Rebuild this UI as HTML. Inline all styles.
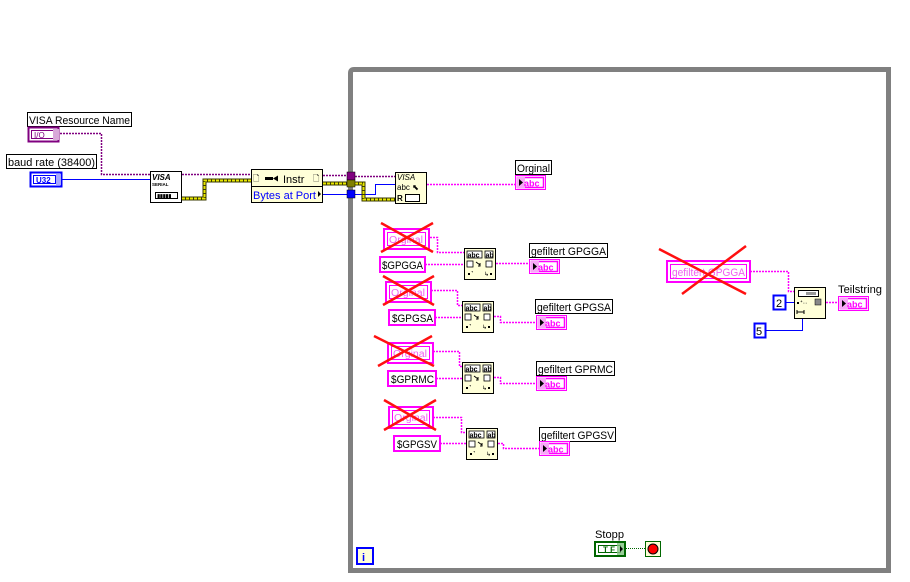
<!DOCTYPE html>
<html><head><meta charset="utf-8"><style>
html,body{margin:0;padding:0;background:#fff;}
svg{display:block;font-family:"Liberation Sans",sans-serif;}
</style></head><body>
<svg width="910" height="582" viewBox="0 0 910 582" xmlns="http://www.w3.org/2000/svg">
<defs>
<g id="abcind">
 <rect x="0.5" y="0.5" width="30" height="14" fill="#fff" stroke="#ff00ff" stroke-width="1"/>
 <rect x="2.5" y="2.5" width="26" height="10" fill="#fff" stroke="#ff00ff" stroke-width="1.5"/>
 <rect x="2" y="2" width="8" height="11" fill="#f7a8f7"/>
 <polygon points="4,4 8,7.5 4,11" fill="#000"/>
 <text x="9" y="11.5" font-size="9" font-weight="bold" fill="#ff00ff">abc</text>
</g>
<g id="match">
 <rect x="0.5" y="0.5" width="31" height="31" fill="#ffffd8" stroke="#000"/>
 <rect x="3" y="3" width="15" height="7" fill="#fff" stroke="#000" stroke-width="0.8"/>
 <text x="3.5" y="9.5" font-size="7" font-weight="bold">abc</text>
 <rect x="21" y="3" width="8" height="7" fill="#fff" stroke="#000" stroke-width="0.8"/>
 <text x="21.5" y="9.5" font-size="7" font-weight="bold">ab</text>
 <rect x="3" y="13" width="6" height="6" fill="#fff" stroke="#000" stroke-width="0.8"/>
 <rect x="22" y="13" width="6" height="6" fill="#fff" stroke="#000" stroke-width="0.8"/>
 <path d="M12,14 L16,17 M16,15 L16,18 L14,18" stroke="#000" fill="none"/>
 <rect x="4" y="25" width="2" height="2" fill="#000"/><text x="7" y="27" font-size="6">ᐩ</text>
 <text x="20" y="28" font-size="6">↳</text><rect x="26" y="25" width="2" height="2" fill="#000"/>
</g>
</defs>

<path d="M350.5,572 L350.5,73 Q350.5,69.5 354,69.5 L888.5,69.5 L888.5,572" fill="none" stroke="#808080" stroke-width="5"/>
<line x1="348" y1="570.5" x2="891" y2="570.5" stroke="#808080" stroke-width="5"/>

<g fill="none">
 <path d="M60,133.5 H101.5 V174.5 H150" stroke="#800080" stroke-dasharray="2,1" stroke-width="1.5"/>
 <path d="M182,174.5 H251" stroke="#800080" stroke-dasharray="2,1" stroke-width="1.5"/>
 <path d="M323,175.5 H350" stroke="#800080" stroke-dasharray="2,1" stroke-width="1.5"/>
 <path d="M355,176.5 H395" stroke="#800080" stroke-dasharray="2,1" stroke-width="1.5"/>
 <path d="M62,179.5 H150" stroke="#0000ff" stroke-width="1"/>
 <path d="M323,194.5 H348" stroke="#0000ff"/>
 <path d="M355,194.5 H375.5 V184.5 H395" stroke="#0000ff"/>
 <path d="M182,198.5 H204.5 V180.5 H251" stroke="#3a3a00" stroke-width="4"/>
 <path d="M182,198.5 H204.5 V180.5 H251" stroke="#e8e800" stroke-width="2" stroke-dasharray="3,1"/>
 <path d="M323,183.5 H348" stroke="#3a3a00" stroke-width="4"/>
 <path d="M323,183.5 H348" stroke="#e8e800" stroke-width="2" stroke-dasharray="3,1"/>
 <path d="M355,183.5 H363.5 V199.5 H395" stroke="#3a3a00" stroke-width="4"/>
 <path d="M355,183.5 H363.5 V199.5 H395" stroke="#e8e800" stroke-width="2" stroke-dasharray="3,1"/>
 <g stroke="#ff00ff" stroke-dasharray="2,1" stroke-width="1.5">
  <path d="M427,184.5 H515"/>
  <path d="M430,237.5 H437.5 V252.5 H464"/>
  <path d="M425,264.5 H464"/>
  <path d="M496,263.5 H529"/>
  <path d="M431,290.5 H457.5 V305.5 H462"/>
  <path d="M435,317.5 H462"/>
  <path d="M494,316.5 H500.5 V322.5 H536"/>
  <path d="M433,351.5 H459.5 V366.5 H462"/>
  <path d="M436,378.5 H462"/>
  <path d="M494,377.5 H500.5 V383.5 H536"/>
  <path d="M433,417.5 H461.5 V432.5 H466"/>
  <path d="M440,443.5 H466"/>
  <path d="M498,443.5 H503.5 V448.5 H539"/>
  <path d="M750,271.5 H788.5 V291.5 H794"/>
  <path d="M826,302.5 H838"/>
 </g>
 <path d="M786,302.5 H794" stroke="#0000ff"/>
 <path d="M766,330.5 H802.5 V318" stroke="#0000ff"/>
 <path d="M626,548.5 H645" stroke="#006600" stroke-dasharray="1,1"/>
</g>

<rect x="27.5" y="112.5" width="104" height="14" fill="#fff" stroke="#000"/>
<text x="29" y="124" font-size="11" textLength="101" lengthAdjust="spacingAndGlyphs">VISA Resource Name</text>
<rect x="28.5" y="127.5" width="30" height="14" fill="#fff" stroke="#800080" stroke-width="2"/>
<rect x="31.5" y="130.5" width="22" height="8" fill="#fff" stroke="#800080"/>
<text x="34" y="138" font-size="8" fill="#800080">I/O</text>
<rect x="53" y="129" width="6" height="11" fill="#d8a8d8"/>

<rect x="6.5" y="154.5" width="90" height="14" fill="#fff" stroke="#000"/>
<text x="8" y="166" font-size="11" textLength="87" lengthAdjust="spacingAndGlyphs">baud rate (38400)</text>
<rect x="30.5" y="172.5" width="31" height="14" fill="#fff" stroke="#0000ff" stroke-width="2"/>
<rect x="33.5" y="175.5" width="22" height="8" fill="#fff" stroke="#0000ff"/>
<text x="36" y="183" font-size="8" font-weight="bold" fill="#0000ff">U32</text>
<rect x="56" y="174" width="5" height="11" fill="#a8a8ff"/>

<rect x="150.5" y="171.5" width="31" height="31" fill="#fff" stroke="#000"/>
<text x="152" y="180" font-size="8" font-style="italic" font-weight="bold">VISA</text>
<text x="152" y="186" font-size="4.5" font-weight="bold">SERIAL</text>
<rect x="155.5" y="192.5" width="22" height="6" fill="#fff" stroke="#000"/>
<text x="157" y="198" font-size="6" letter-spacing="-0.5">▮▮▮▮▮</text>

<rect x="251.5" y="169.5" width="71" height="33" fill="#ffffd8" stroke="#000"/>
<line x1="251" y1="186.5" x2="323" y2="186.5" stroke="#000"/>
<text x="253" y="181" font-size="8">🗋</text>
<rect x="265" y="177" width="8" height="3" fill="#000"/><polygon points="273,178.5 278,175.5 278,181.5" fill="#000"/>
<text x="283" y="183" font-size="11">Instr</text>
<text x="313" y="181" font-size="8">🗋</text>
<text x="253" y="199" font-size="11" fill="#0000ff" textLength="63" lengthAdjust="spacingAndGlyphs">Bytes at Port</text>
<polygon points="318,191 321,194 318,197" fill="#000"/>

<rect x="347" y="172" width="8" height="8" fill="#800080" stroke="#000" stroke-width="0.5"/>
<rect x="347" y="180" width="8" height="7" fill="#808000" stroke="#000" stroke-width="0.5"/>
<rect x="347" y="190" width="8" height="8" fill="#0000ff" stroke="#000" stroke-width="0.5"/>

<rect x="395.5" y="172.5" width="31" height="31" fill="#ffffd8" stroke="#000"/>
<text x="397" y="180" font-size="8" font-style="italic">VISA</text>
<text x="397" y="190" font-size="8">abc ⬉</text>
<text x="397" y="201" font-size="8" font-weight="bold">R</text>
<rect x="405.5" y="194.5" width="14" height="7" fill="#fff" stroke="#000"/>

<rect x="515.5" y="160.5" width="36" height="14" fill="#fff" stroke="#000"/>
<text x="517" y="172" font-size="11" textLength="33" lengthAdjust="spacingAndGlyphs">Orginal</text>
<use href="#abcind" x="515" y="175"/>

<g font-size="11">
 <rect x="384" y="229" width="45" height="20" fill="#fff" stroke="#ff00ff" stroke-width="2"/>
 <rect x="387.5" y="232.5" width="38" height="13" fill="none" stroke="#ff00ff"/>
 <text x="389" y="243" fill="#f060f0" font-size="10" textLength="34" lengthAdjust="spacingAndGlyphs">Orginal</text>
 <path d="M381,223 L433,252 M381,252 L433,223" stroke="#ff1010" stroke-width="2.5"/>
 <rect x="380" y="257" width="45" height="15" fill="#fff" stroke="#ff00ff" stroke-width="2"/>
 <text x="382" y="269" textLength="41" lengthAdjust="spacingAndGlyphs">$GPGGA</text>
 <use href="#match" x="464" y="248"/>
 <rect x="529.5" y="243.5" width="78" height="14" fill="#fff" stroke="#000"/>
 <text x="531" y="255" textLength="75" lengthAdjust="spacingAndGlyphs">gefiltert GPGGA</text>
 <use href="#abcind" x="529" y="259"/>

 <rect x="386" y="282" width="45" height="20" fill="#fff" stroke="#ff00ff" stroke-width="2"/>
 <rect x="389.5" y="285.5" width="38" height="13" fill="none" stroke="#ff00ff"/>
 <text x="391" y="296" fill="#f060f0" font-size="10" textLength="34" lengthAdjust="spacingAndGlyphs">Orginal</text>
 <path d="M383,276 L434,305 M383,305 L434,276" stroke="#ff1010" stroke-width="2.5"/>
 <rect x="389" y="310" width="46" height="15" fill="#fff" stroke="#ff00ff" stroke-width="2"/>
 <text x="392" y="322" textLength="41" lengthAdjust="spacingAndGlyphs">$GPGSA</text>
 <use href="#match" x="462" y="301"/>
 <rect x="535.5" y="299.5" width="77" height="14" fill="#fff" stroke="#000"/>
 <text x="537" y="311" textLength="74" lengthAdjust="spacingAndGlyphs">gefiltert GPGSA</text>
 <use href="#abcind" x="536" y="315"/>

 <rect x="388" y="343" width="45" height="20" fill="#fff" stroke="#ff00ff" stroke-width="2"/>
 <rect x="391.5" y="346.5" width="38" height="13" fill="none" stroke="#ff00ff"/>
 <text x="393" y="357" fill="#f060f0" font-size="10" textLength="34" lengthAdjust="spacingAndGlyphs">Orginal</text>
 <path d="M374,336 L434,366 M378,366 L432,336" stroke="#ff1010" stroke-width="2.5"/>
 <rect x="388" y="371" width="48" height="15" fill="#fff" stroke="#ff00ff" stroke-width="2"/>
 <text x="391" y="383" textLength="43" lengthAdjust="spacingAndGlyphs">$GPRMC</text>
 <use href="#match" x="462" y="362"/>
 <rect x="536.5" y="361.5" width="78" height="14" fill="#fff" stroke="#000"/>
 <text x="538" y="373" textLength="75" lengthAdjust="spacingAndGlyphs">gefiltert GPRMC</text>
 <use href="#abcind" x="536" y="376"/>

 <rect x="389" y="407" width="44" height="21" fill="#fff" stroke="#ff00ff" stroke-width="2"/>
 <rect x="392.5" y="410.5" width="37" height="14" fill="none" stroke="#ff00ff"/>
 <text x="394" y="421" fill="#f060f0" font-size="10" textLength="34" lengthAdjust="spacingAndGlyphs">Orginal</text>
 <path d="M384,400 L436,430 M384,430 L436,400" stroke="#ff1010" stroke-width="2.5"/>
 <rect x="394" y="436" width="46" height="15" fill="#fff" stroke="#ff00ff" stroke-width="2"/>
 <text x="397" y="448" textLength="40" lengthAdjust="spacingAndGlyphs">$GPGSV</text>
 <use href="#match" x="466" y="428"/>
 <rect x="539.5" y="427.5" width="76" height="14" fill="#fff" stroke="#000"/>
 <text x="541" y="439" textLength="73" lengthAdjust="spacingAndGlyphs">gefiltert GPGSV</text>
 <use href="#abcind" x="539" y="441"/>
</g>

<rect x="667" y="261" width="83" height="21" fill="#fff" stroke="#ff00ff" stroke-width="2"/>
<rect x="670.5" y="264.5" width="76" height="14" fill="none" stroke="#ff00ff"/>
<text x="672" y="276" font-size="11" fill="#f060f0" textLength="73" lengthAdjust="spacingAndGlyphs">gefiltert GPGGA</text>
<path d="M659,249 L746,294 M682,294 L746,246" stroke="#ff1010" stroke-width="2.5"/>
<rect x="773.5" y="295.5" width="12" height="14" fill="#fff" stroke="#0000ff" stroke-width="2"/>
<text x="776" y="307" font-size="11">2</text>
<rect x="754.5" y="323.5" width="11" height="14" fill="#fff" stroke="#0000ff" stroke-width="2"/>
<text x="756" y="335" font-size="11">5</text>
<rect x="794.5" y="287.5" width="31" height="31" fill="#ffffd8" stroke="#000"/>
<rect x="798.5" y="290.5" width="20" height="6" fill="#fff" stroke="#000"/>
<rect x="806" y="292" width="10" height="3" fill="#999"/>
<rect x="797" y="302" width="2" height="2" fill="#000"/>
<text x="800" y="305" font-size="7">ᐩ··</text>
<rect x="815" y="299" width="6" height="6" fill="#888" stroke="#000" stroke-width="0.5"/>
<path d="M797,310 V314 M797,312 H804 M804,310 V314" stroke="#000" fill="none"/>
<text x="838" y="293" font-size="11" textLength="44" lengthAdjust="spacingAndGlyphs">Teilstring</text>
<use href="#abcind" x="838" y="296"/>

<rect x="357" y="548" width="16" height="16" fill="#ffffd8" stroke="#0000ff" stroke-width="2"/>
<text x="362" y="561" font-size="11" fill="#0000ff" font-weight="bold">i</text>

<text x="595" y="538" font-size="11" textLength="29" lengthAdjust="spacingAndGlyphs">Stopp</text>
<rect x="595" y="542" width="30" height="14" fill="#fff" stroke="#006600" stroke-width="2"/>
<rect x="598.5" y="545.5" width="22" height="7" fill="#fff" stroke="#006600"/>
<text x="603" y="552.5" font-size="8" font-weight="bold" fill="#006600">T F</text>
<rect x="617" y="543" width="7" height="12" fill="#80c080" opacity="0.8"/>
<polygon points="620,546 623,549 620,552" fill="#000"/>
<rect x="645.5" y="541.5" width="15" height="15" fill="#ffffd8" stroke="#006600"/>
<circle cx="653" cy="549" r="5" fill="#ff0000" stroke="#000"/>
</svg>
</body></html>
